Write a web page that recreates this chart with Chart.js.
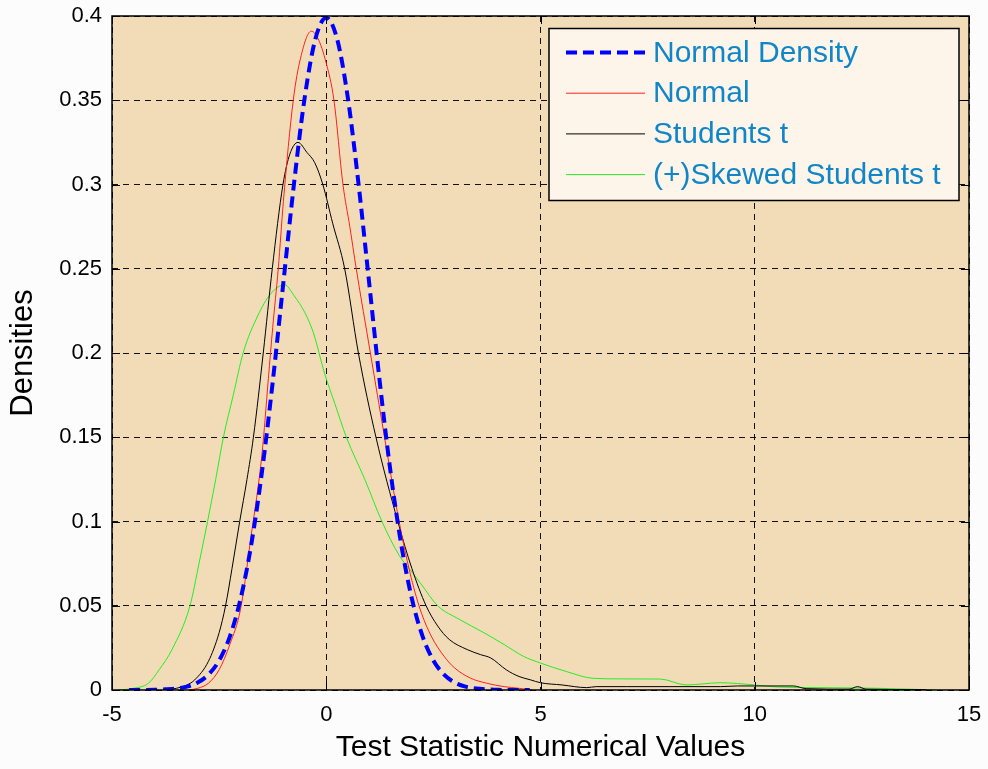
<!DOCTYPE html>
<html lang="en">
<head>
  <meta charset="UTF-8">
  <title>Densities of Test Statistic</title>
  <script src="https://cdn.jsdelivr.net/npm/chart.js"></script>
  <style>
    body { margin: 0; background: #fcfcfc; }
    canvas { display: block; }
  </style>
</head>
<body>
  <canvas id="densChart" width="988" height="769"></canvas>

  <script>
    // series (x = test statistic, y = density)
    const normDensX = [-4.6, -4.25, -4, -3.75, -3.5, -3.25, -3, -2.75, -2.5, -2.25, -2, -1.75, -1.5, -1.25, -1, -0.75, -0.5, -0.25, 0,
                       0.25, 0.5, 0.75, 1, 1.25, 1.5, 1.75, 2, 2.25, 2.5, 2.75, 3, 3.25, 3.5, 3.75, 4, 4.25, 4.75];
    const normDensY = [0, 0, 0.0001, 0.0004, 0.0009, 0.002, 0.0044, 0.0091, 0.0175, 0.0317, 0.054, 0.0863, 0.1295, 0.1826, 0.242, 0.3011, 0.3521, 0.3867, 0.3989,
                       0.3867, 0.3521, 0.3011, 0.242, 0.1826, 0.1295, 0.0863, 0.054, 0.0317, 0.0175, 0.0091, 0.0044, 0.002, 0.0009, 0.0004, 0.0001, 0, 0];

    const normalX = [-3.2, -3.0, -2.75, -2.5, -2.25, -2.0, -1.75, -1.5, -1.35, -1.25, -1.12, -1.0, -0.77, -0.6, -0.35, -0.2, 0, 0.18, 0.39, 0.55,
                     0.7, 1.03, 1.36, 1.7, 1.95, 2.19, 2.45, 2.75, 3.0, 3.37, 3.75, 4.15, 4.5, 4.8];
    const normalY = [0, 0.001, 0.004, 0.012, 0.027, 0.048, 0.092, 0.14, 0.185, 0.215, 0.25, 0.29, 0.35, 0.375, 0.391, 0.387, 0.372, 0.35, 0.3, 0.275,
                     0.25, 0.2, 0.15, 0.1, 0.07, 0.048, 0.032, 0.02, 0.013, 0.007, 0.004, 0.002, 0.001, 0];

    const studentX = [-3.7, -3.5, -3.25, -3.07, -2.75, -2.5, -2.35, -2.2, -2.02, -1.85, -1.7, -1.47, -1.26, -1.01, -0.85, -0.66, -0.45, -0.27, -0.08, 0.15,
                      0.43, 0.75, 1.16, 1.67, 2.0, 2.33, 2.6, 2.87, 3.29, 3.6, 3.84, 4.2, 4.5, 4.77, 5.0, 5.5, 6.08, 6.3, 7.0, 8.0,
                      9.2, 9.6, 10.9, 11.2, 12.2, 12.4, 12.6, 14];
    const studentY = [0, 0.001, 0.003, 0.006, 0.017, 0.034, 0.05, 0.072, 0.1, 0.125, 0.15, 0.2, 0.25, 0.3, 0.318, 0.325, 0.319, 0.313, 0.3, 0.277,
                      0.25, 0.2, 0.15, 0.1, 0.072, 0.05, 0.038, 0.03, 0.024, 0.021, 0.019, 0.012, 0.008, 0.006, 0.0043, 0.003, 0.0014, 0.002, 0.002, 0.002,
                      0.002, 0.0024, 0.0024, 0.0008, 0.0005, 0.002, 0.0005, 0.0002];

    const skewX = [-4.84, -4.5, -4.15, -3.9, -3.6, -3.18, -2.97, -2.77, -2.58, -2.4, -2.17, -1.94, -1.6, -1.3, -0.97, -0.75, -0.5, -0.3, -0.04, 0.2,
                   0.47, 0.9, 1.3, 1.7, 2.0, 2.21, 2.6, 3.1, 3.68, 4.15, 4.6, 5.0, 5.6, 6.24, 6.9, 7.8, 8.4, 9.19, 10.0, 10.5,
                   11.5, 12.9, 14.2];
    const skewY = [0, 0.001, 0.004, 0.012, 0.024, 0.05, 0.075, 0.1, 0.125, 0.15, 0.175, 0.2, 0.222, 0.235, 0.2405, 0.234, 0.224, 0.212, 0.188, 0.17,
                   0.15, 0.125, 0.1, 0.08, 0.07, 0.063, 0.05, 0.042, 0.034, 0.027, 0.02, 0.016, 0.011, 0.0069, 0.0066, 0.0065, 0.003, 0.0043, 0.003, 0.0018,
                   0.0014, 0.001, 0];

    const seriesLabels = ['Normal Density', 'Normal', 'Students t', '(+)Skewed Students t'];
    const xTickLabels = ['-5', '0', '5', '10', '15'];
    const yTickLabels = ['0', '0.05', '0.1', '0.15', '0.2', '0.25', '0.3', '0.35', '0.4'];

    const toPoints = (xs, ys) => xs.map((x, i) => ({ x: x, y: ys[i] }));

    // plot background + frame with inward ticks
    const frame = {
      id: 'frame',
      beforeDraw(chart) {
        const a = chart.chartArea, c = chart.ctx;
        c.save();
        c.fillStyle = '#f2dcb8';
        c.fillRect(a.left, a.top, a.right - a.left, a.bottom - a.top);
        c.restore();
      },
      afterDatasetsDraw(chart) {
        const a = chart.chartArea, c = chart.ctx;
        const xs = chart.scales.x, ys = chart.scales.y;
        c.save();
        c.strokeStyle = '#000';
        c.lineWidth = 1.5;
        c.strokeRect(a.left, a.top, a.right - a.left, a.bottom - a.top);
        c.lineWidth = 1;
        c.beginPath();
        xs.ticks.forEach(t => {
          const px = Math.round(xs.getPixelForValue(t.value)) + 0.5;
          c.moveTo(px, a.bottom); c.lineTo(px, a.bottom - 8);
          c.moveTo(px, a.top); c.lineTo(px, a.top + 8);
        });
        ys.ticks.forEach(t => {
          const py = Math.round(ys.getPixelForValue(t.value)) + 0.5;
          c.moveTo(a.left, py); c.lineTo(a.left + 8, py);
          c.moveTo(a.right, py); c.lineTo(a.right - 8, py);
        });
        c.stroke();
        c.restore();
      }
    };

    // matlab style legend box in the top right corner
    const boxLegend = {
      id: 'boxLegend',
      afterDraw(chart) {
        const a = chart.chartArea, c = chart.ctx;
        const sets = chart.data.datasets;
        c.save();
        c.font = '30px "Liberation Sans", Arial, sans-serif';
        let maxW = 0;
        sets.forEach(d => { maxW = Math.max(maxW, c.measureText(d.label).width); });
        const w = Math.max(410, 104 + maxW + 12), h = 172;
        const bx = a.right - 10 - w, by = a.top + 12.5;
        c.fillStyle = '#fdf5ea';
        c.fillRect(bx, by, w, h);
        c.strokeStyle = '#000';
        c.lineWidth = 1.5;
        c.strokeRect(bx, by, w, h);
        sets.forEach((d, i) => {
          const ry = by + 24 + i * 40.7;
          c.strokeStyle = d.borderColor;
          c.lineWidth = d.borderWidth;
          c.setLineDash(d.borderDash || []);
          c.beginPath();
          c.moveTo(bx + 17, ry); c.lineTo(bx + 96, ry);
          c.stroke();
          c.setLineDash([]);
          c.fillStyle = '#1086c8';
          c.textBaseline = 'middle';
          c.fillText(d.label, bx + 104, ry + 1);
        });
        c.restore();
      }
    };

    const font = '"Liberation Sans", Arial, sans-serif';

    const chart = new Chart(document.getElementById('densChart'), {
      type: 'line',
      data: {
        datasets: [
          { label: seriesLabels[0], data: toPoints(normDensX, normDensY), borderColor: '#0000ff', borderWidth: 4, borderDash: [11, 6] },
          { label: seriesLabels[1], data: toPoints(normalX, normalY), borderColor: '#ff2020', borderWidth: 1 },
          { label: seriesLabels[2], data: toPoints(studentX, studentY), borderColor: '#000000', borderWidth: 1 },
          { label: seriesLabels[3], data: toPoints(skewX, skewY), borderColor: '#22ee22', borderWidth: 1 }
        ].map(d => Object.assign(d, { pointRadius: 0, fill: false, cubicInterpolationMode: 'monotone' }))
      },
      options: {
        responsive: false,
        animation: false,
        devicePixelRatio: 1,
        layout: { padding: { left: 0, top: 16, right: 19, bottom: 0 } },
        plugins: {
          legend: { display: false },
          tooltip: { enabled: false }
        },
        scales: {
          x: {
            type: 'linear', min: -5, max: 15,
            afterFit: s => { s.height = 79; s.paddingLeft = 0; s.paddingRight = 0; },
            ticks: {
              stepSize: 5, padding: 12, color: '#000',
              font: { family: font, size: 22 },
              maxRotation: 0,
              callback: (v, i) => xTickLabels[i]
            },
            grid: { color: '#111', lineWidth: 1, drawTicks: false },
            border: { display: false, dash: [6, 5] },
            title: {
              display: true, text: 'Test Statistic Numerical Values', color: '#000',
              font: { family: font, size: 30, lineHeight: 1 }, padding: { top: 0, bottom: 6 }
            }
          },
          y: {
            min: 0, max: 0.4,
            afterFit: s => { s.width = 112; s.paddingTop = 0; s.paddingBottom = 0; },
            ticks: {
              stepSize: 0.05, padding: 10, color: '#000',
              font: { family: font, size: 22 },
              callback: (v, i) => yTickLabels[i]
            },
            grid: { color: '#111', lineWidth: 1, drawTicks: false },
            border: { display: false, dash: [6, 5] },
            title: {
              display: true, text: 'Densities', color: '#000',
              font: { family: font, size: 31, lineHeight: 1 }, padding: { top: 8, bottom: 0 }
            }
          }
        }
      },
      plugins: [frame, boxLegend]
    });
  </script>
</body>
</html>
